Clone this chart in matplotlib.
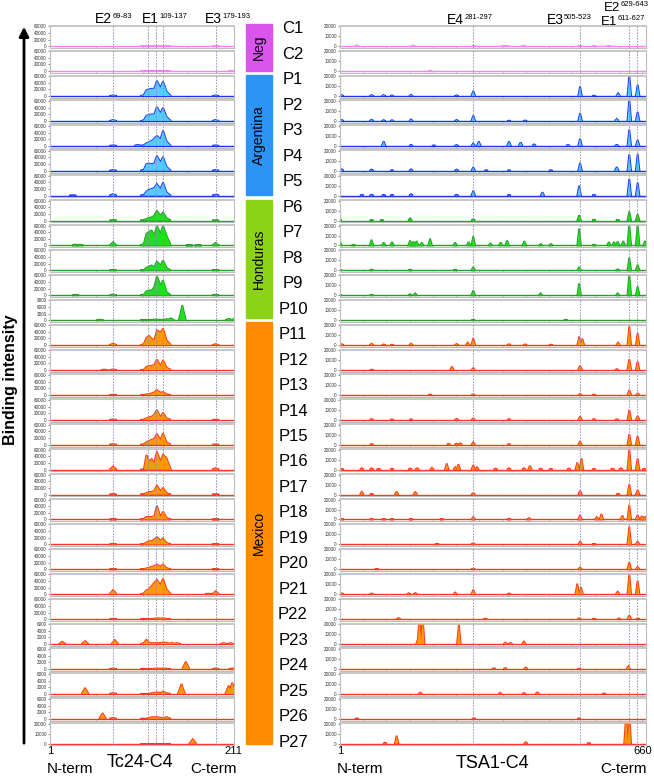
import numpy as np
import matplotlib.pyplot as plt
from matplotlib.patches import Rectangle

plt.rcParams['font.family'] = ['Liberation Sans', 'DejaVu Sans']

W, H = 654, 779

# panels, top to bottom
panel_names = ['C1', 'C2'] + ['P%d' % i for i in range(1, 28)]
group_names = ['Neg', 'Argentina', 'Honduras', 'Mexico']
group_rows = [(0, 1), (2, 6), (7, 11), (12, 28)]
group_bar_px = [(24, 71), (75, 195), (200, 318), (322, 744)]
group_bar_colors = ['#d955ec', '#2b94f5', '#8cd317', '#ff8c00']
line_colors = ['#ff80ff', '#1a35e8', '#2a9d2a', '#ff3322']
fill_colors = ['#ffb0ff', '#55ccff', '#1ee01e', '#ff9900']

# ---- Tc24-C4 (1..211), values in thousands ----
tc24_len = 211
tc24_epitopes = [73, 113, 122, 130, 190]
tc24_ymax = [60, 60, 60, 60, 60, 60, 60, 60, 60, 60, 60, 9,
             60, 60, 60, 60, 60, 60, 60, 60, 60, 60, 60, 60,
             6, 6, 6, 6, 20]
tc24_cluster_pos = [104, 108, 111, 114, 117, 120, 123, 127, 130, 134, 139]
tc24_cluster = [
    [0, 0, 0, 0, 0.4, 0.8, 0.8, 0.6, 0.8, 0.4, 0],     # C1
    [0, 0, 0, 0, 0, 0, 0, 0, 0, 0, 0],                 # C2
    [0, 3, 18, 20, 22, 22, 46, 25, 44, 14, 0],         # P1
    [0, 2, 16, 18, 20, 20, 42, 23, 40, 12, 0],         # P2
    [0, 2, 8, 12, 15, 22, 30, 20, 46, 14, 0],          # P3
    [0, 3, 20, 22, 20, 22, 45, 25, 42, 12, 0],         # P4
    [0, 2, 12, 18, 20, 24, 35, 20, 40, 10, 0],         # P5
    [0, 1, 5, 8, 10, 15, 30, 15, 25, 8, 0],            # P6
    [0, 5, 35, 42, 45, 30, 60, 35, 60, 30, 0],         # P7
    [0, 1, 8, 12, 15, 10, 27, 15, 30, 8, 0],           # P8
    [0, 2, 12, 15, 15, 25, 58, 30, 45, 10, 0],         # P9
    [0, 0, 0, 0.1, 0.2, 0.3, 0.3, 0.2, 0.2, 0.5, 0],   # P10
    [0, 3, 22, 28, 20, 15, 45, 38, 50, 15, 0],         # P11
    [0, 1, 10, 13, 13, 15, 32, 12, 30, 8, 0],          # P12
    [0, 0, 2, 3, 5, 8, 15, 7, 9, 2, 0],                # P13
    [0, 1, 5, 8, 10, 15, 30, 8, 22, 5, 0],             # P14
    [0, 1, 8, 12, 15, 18, 33, 15, 35, 8, 0],           # P15
    [0, 0, 45, 25, 32, 20, 55, 25, 45, 35, 0],         # P16
    [0, 1, 5, 8, 8, 12, 28, 10, 20, 5, 0],             # P17
    [0, 2, 8, 8, 8, 10, 42, 8, 24, 5, 0],              # P18
    [0, 1, 6, 10, 10, 15, 22, 12, 18, 5, 0],           # P19
    [0, 1, 3, 5, 8, 10, 15, 8, 15, 4, 0],              # P20
    [0, 3, 12, 15, 25, 35, 43, 28, 47, 15, 0],         # P21
    [0, 0, 0, 0.5, 1, 1.5, 3, 2, 3, 1, 0],             # P22
    [0, 0.3, 1.3, 0.4, 0.3, 0.3, 0.4, 0.3, 0.5, 0.4, 0],  # P23
    [0, 0, 0, 0, 0, 0.1, 0.2, 0.1, 0.2, 0.1, 0],       # P24
    [0, 0, 0, 0, 0.2, 0.3, 0.5, 0.3, 0.7, 0.2, 0],     # P25
    [0, 0, 0, 0.3, 0.5, 0.5, 0.5, 0.3, 0.3, 0.5, 0],   # P26
    [0, 0, 0, 0, 0, 0, 0, 0, 0, 0, 0],                 # P27
]
# isolated peaks (position, height in thousands)
tc24_peaks = [
    [(190, 0.3)],                                               # C1
    [(208, 1.0)],                                               # C2
    [(73, 2), (190, 2)],                                        # P1
    [(73, 3), (190, 3)],                                        # P2
    [(73, 1.5), (101, 3), (190, 1.5)],                          # P3
    [(73, 2), (190, 2)],                                        # P4
    [(27, 1), (73, 5), (190, 3)],                               # P5
    [(73, 1), (190, 0.5)],                                      # P6
    [(30, 3), (35, 2.5), (73, 10), (160, 0.8), (170, 1), (190, 8)],  # P7
    [(73, 2), (190, 1.5)],                                      # P8
    [(30, 1), (73, 3), (190, 2)],                               # P9
    [(58, 0.3), (139, 0.9), (152, 6.8), (205, 0.7), (210, 0.5)],  # P10
    [(73, 5), (190, 3)],                                        # P11
    [(63, 1.5), (73, 2)],                                       # P12
    [(73, 0.5)],                                                # P13
    [(73, 1), (190, 0.5)],                                      # P14
    [(73, 2), (190, 1)],                                        # P15
    [(73, 10), (190, 5)],                                       # P16
    [(73, 1), (190, 0.5)],                                      # P17
    [(73, 1), (190, 0.5)],                                      # P18
    [(73, 2), (190, 1)],                                        # P19
    [(73, 0.5), (190, 0.5)],                                    # P20
    [(73, 13), (182, 2), (190, 9)],                             # P21
    [(73, 0.5)],                                                # P22
    [(15, 0.7), (41, 0.9), (75, 1.2), (140, 0.4), (146, 0.3), (199, 0.3), (207, 0.3)],  # P23
    [(73, 0.2), (156, 2.2), (190, 0.2), (209, 0.2)],            # P24
    [(41, 1.8), (73, 0.3), (151, 3.0), (205, 2.5), (209, 3.4)],  # P25
    [(61, 1.7), (73, 0.3)],                                     # P26
    [(164, 4.5)],                                               # P27
]

# ---- TSA1-C4 (1..660), values in thousands, axis max 20 ----
tsa1_len = 660
tsa1_epitopes = [287, 518, 624, 641]
tsa1_ymax = 20
tsa1_peaks = [
    [(37, 1.0), (159, 0.8), (289, 0.4), (353, 0.5), (360, 0.5), (396, 0.7), (518, 0.4), (548, 0.4), (580, 0.5)],  # C1
    [(195, 0.3)],  # C2
    [(5, 1.0), (69, 1.0), (95, 1.0), (113, 0.6), (154, 1.2), (252, 0.7), (288, 5.2), (518, 9.5), (548, 0.5),
     (600, 2.7), (624, 21), (642, 11.4)],  # P1
    [(5, 1.0), (69, 1.2), (95, 0.8), (113, 0.8), (154, 1.5), (252, 1.0), (288, 5.5), (365, 0.3), (400, 0.5),
     (518, 8.0), (597, 2.0), (624, 22), (642, 9.0)],  # P2
    [(95, 4.5), (154, 1.0), (203, 0.5), (252, 0.8), (288, 2.5), (300, 4.5), (365, 4.5), (390, 3.5), (419, 1.5),
     (492, 1.0), (518, 7.2), (597, 1.0), (624, 16.5), (642, 6.0)],  # P3
    [(5, 1.5), (69, 1.2), (113, 0.5), (154, 1.5), (252, 1.2), (288, 3.5), (316, 0.5), (365, 0.4), (455, 0.5),
     (518, 8.0), (597, 3.8), (624, 16.5), (642, 17.0)],  # P4
    [(48, 0.8), (69, 1.0), (95, 0.6), (113, 0.6), (154, 1.5), (252, 0.8), (288, 5.0), (365, 0.6), (437, 3.4),
     (516, 10.0), (548, 0.8), (624, 17.0), (642, 13.0)],  # P5
    [(1, 0.8), (69, 0.5), (91, 0.3), (152, 2.4), (288, 1.5), (516, 5.5), (548, 1.0), (599, 0.7), (624, 9.3),
     (642, 6.5)],  # P6
    [(1, 3.5), (30, 0.8), (69, 5.8), (95, 3.0), (113, 3.5), (152, 5.0), (159, 4.0), (166, 4.5), (177, 3.0),
     (195, 6.9), (249, 3.0), (278, 3.5), (288, 9.3), (325, 2.0), (347, 3.0), (361, 5.0), (398, 4.5), (433, 1.5),
     (455, 1.5), (516, 17.0), (548, 1.0), (580, 3.5), (591, 3.5), (599, 4.0), (611, 4.5), (624, 22), (642, 22),
     (658, 4.5)],  # P7
    [(1, 0.8), (69, 1.0), (152, 1.0), (249, 0.8), (288, 3.4), (516, 3.5), (599, 1.2), (624, 13.0), (642, 5.8)],  # P8
    [(1, 0.8), (69, 0.6), (152, 1.2), (163, 2.0), (288, 5.0), (433, 2.0), (516, 12.0), (599, 2.0), (624, 21),
     (642, 9.0)],  # P9
    [(288, 0.3), (487, 0.3)],  # P10
    [(5, 1.0), (69, 1.5), (95, 0.8), (113, 0.5), (154, 1.5), (252, 1.2), (276, 2.5), (288, 7.0), (365, 1.0),
     (400, 0.8), (455, 0.5), (516, 8.6), (523, 6.5), (600, 2.5), (624, 19.0), (642, 12.0)],  # P11
    [(69, 0.4), (242, 3.5), (288, 2.0), (518, 4.5), (597, 1.0), (624, 11.0), (642, 8.5)],  # P12
    [(195, 0.5), (288, 0.6), (518, 1.2), (548, 0.5), (624, 5.0), (642, 1.5)],  # P13
    [(69, 0.8), (113, 0.4), (154, 0.6), (252, 1.0), (288, 1.5), (365, 0.8), (518, 3.5), (548, 0.8), (597, 0.6),
     (624, 10.0), (642, 4.0)],  # P14
    [(69, 0.6), (235, 1.0), (252, 1.2), (260, 1.5), (288, 2.5), (365, 0.6), (518, 3.5), (624, 10.7), (642, 8.6)],  # P15
    [(5, 0.8), (48, 1.5), (69, 1.5), (84, 0.8), (113, 1.0), (152, 1.3), (167, 1.5), (199, 2.0), (231, 6.2),
     (249, 2.5), (256, 5.5), (288, 4.5), (296, 2.5), (336, 1.2), (365, 1.5), (397, 1.5), (410, 4.0), (433, 1.0),
     (455, 0.8), (494, 1.2), (512, 7.2), (521, 11.4), (548, 0.8), (588, 1.0), (606, 1.5), (624, 21), (642, 11.4),
     (656, 1.0)],  # P16
    [(48, 2.8), (69, 0.5), (123, 3.0), (163, 3.0), (288, 1.5), (518, 3.8), (600, 0.8), (624, 10.3), (642, 4.5)],  # P17
    [(5, 0.6), (69, 0.8), (95, 0.5), (113, 0.5), (154, 0.5), (220, 0.5), (288, 2.5), (365, 0.6), (408, 1.5),
     (518, 4.5), (554, 2.5), (564, 5.5), (609, 4.0), (624, 14.8), (642, 4.5), (651, 3.5), (657, 3.0)],  # P18
    [(210, 0.5), (288, 1.2), (518, 3.0), (548, 0.5), (624, 18.0), (642, 3.0)],  # P19
    [(80, 0.4), (288, 0.8), (518, 2.0), (624, 7.0), (642, 2.5)],  # P20
    [(5, 1.0), (69, 0.8), (149, 1.0), (163, 1.2), (249, 1.8), (288, 4.5), (365, 0.8), (512, 10.7), (520, 7.0),
     (599, 2.5), (624, 21), (642, 13.8)],  # P21
    [(127, 1.2), (314, 0.6), (516, 0.8), (548, 0.6), (602, 0.8), (624, 3.8), (642, 0.8)],  # P22
    [(169, 5.0), (172, 28), (179, 28), (257, 20.0), (357, 1.5), (368, 1.2), (397, 2.5)],  # P23
    [(332, 0.8), (357, 1.0), (401, 1.5), (516, 0.3), (622, 2.8)],  # P24
    [(174, 1.2), (346, 1.0), (397, 0.8), (426, 1.5), (570, 0.4)],  # P25
    [(37, 0.2), (289, 0.4), (516, 0.3)],  # P26
    [(98, 1.0), (123, 8.0), (401, 1.5), (537, 0.5), (617, 28), (624, 28)],  # P27
]

tick_step = {60: 20, 9: 3, 6: 2, 20: 10}

# layout in pixels
ROW_TOP0, ROW_STEP, ROW_H = 25.7, 24.91, 22.3
L_X0, L_W = 50, 184
R_X0, R_W = 340, 306

fig = plt.figure(figsize=(W / 100, H / 100), dpi=100)


def px_axes(x0, y0, w, h):
    return fig.add_axes([x0 / W, 1 - (y0 + h) / H, w / W, h / H])


def draw_panel(ax, xmax, ymax, cluster, peaks, halfw, lc, fc, epis, xticks):
    ax.set_xlim(1, xmax)
    ax.set_ylim(-0.09 * ymax * 1000, 1.03 * ymax * 1000)
    ax.axhline(0, color=lc, lw=1.0, zorder=2.5)
    if cluster is not None:
        cx, cy = cluster
        cy = np.array(cy) * 1000
        ax.fill(cx, cy, facecolor=fc, edgecolor='none', zorder=3)
        ax.fill(cx, cy, facecolor='none', edgecolor=lc, lw=1.3, zorder=2)
    for p, h in peaks:
        xs = [p - halfw, p, p + halfw]
        ys = [0, h * 1000, 0]
        ax.fill(xs, ys, facecolor=fc, edgecolor='none', zorder=3)
        ax.fill(xs, ys, facecolor='none', edgecolor=lc, lw=1.3, zorder=2)
    for e in epis:
        ax.axvline(e, color='#8c8cb0', lw=0.6, ls=(0, (2, 1.5)), zorder=4)
    step = tick_step[ymax]
    ax.set_yticks(np.arange(0, ymax + step, step) * 1000)
    ax.set_yticklabels(['%d' % v for v in np.arange(0, ymax + step, step) * 1000])
    ax.set_xticks(xticks)
    ax.set_xticklabels([])
    ax.tick_params(axis='y', labelsize=3.3, length=1.5, width=0.4, pad=0.8, colors='#333333')
    ax.tick_params(axis='x', direction='in', length=1.5, width=0.4, colors='#999999')
    for s in ax.spines.values():
        s.set_color('#bdbdbd')
        s.set_linewidth(0.8)
    ax.spines['top'].set_linewidth(1.2)


row_group = []
for g, (a, b) in enumerate(group_rows):
    row_group += [g] * (b - a + 1)

for i, name in enumerate(panel_names):
    top = ROW_TOP0 + i * ROW_STEP
    g = row_group[i]
    axl = px_axes(L_X0, top, L_W, ROW_H)
    draw_panel(axl, tc24_len, tc24_ymax[i], (tc24_cluster_pos, tc24_cluster[i]),
               tc24_peaks[i], 4, line_colors[g], fill_colors[g], tc24_epitopes,
               [1, 54, 107, 159, 211])
    axr = px_axes(R_X0, top, R_W, ROW_H)
    draw_panel(axr, tsa1_len, tsa1_ymax, None, tsa1_peaks[i], 4,
               line_colors[g], fill_colors[g], tsa1_epitopes, np.arange(1, 661, 50))

# overlay for annotations, pixel coordinates
ov = fig.add_axes([0, 0, 1, 1])
ov.set_xlim(0, W)
ov.set_ylim(H, 0)
ov.axis('off')

for name, (t, b), c in zip(group_names, group_bar_px, group_bar_colors):
    ov.add_patch(Rectangle((246, t), 26, b - t, color=c))
    ov.text(259, (t + b) / 2, name, rotation=90, ha='center', va='center', fontsize=10)

for i, name in enumerate(panel_names):
    ov.text(293, 33.3 + i * 25.48, name, ha='center', va='baseline', fontsize=12)

ov.annotate('', xy=(24, 24), xytext=(24, 746),
            arrowprops=dict(arrowstyle='-|>', lw=2, color='black', mutation_scale=14))
ov.text(11, 380, 'Binding intensity', rotation=90, ha='center', va='center',
        fontsize=11.5, fontweight='bold')


def epitope_label(x, y, main, sup, size=10):
    ov.text(x, y, main, ha='right', va='baseline', fontsize=size)
    ov.text(x + 0.5, y - 5, sup, ha='left', va='baseline', fontsize=5.5)


epitope_label(112.5, 22.5, 'E2', '69-83')
epitope_label(158.5, 22.5, 'E1', '109-137')
epitope_label(222, 22.5, 'E3', '179-193')
epitope_label(464, 23.5, 'E4', '281-297')
epitope_label(563.5, 23.5, 'E3', '505-523')
epitope_label(617, 25, 'E1', '611-627', size=9.5)
epitope_label(620, 10.5, 'E2', '629-643', size=9.5)

# bottom axis annotations
ov.text(50, 754, '1', ha='center', va='baseline', fontsize=8)
ov.text(233, 754, '211', ha='center', va='baseline', fontsize=8)
ov.text(47, 773, 'N-term', ha='left', va='baseline', fontsize=11)
ov.text(140, 767, 'Tc24-C4', ha='center', va='baseline', fontsize=13)
ov.text(237, 773, 'C-term', ha='right', va='baseline', fontsize=11)
ov.text(340, 754, '1', ha='center', va='baseline', fontsize=8)
ov.text(643, 754, '660', ha='center', va='baseline', fontsize=8)
ov.text(337, 773, 'N-term', ha='left', va='baseline', fontsize=11)
ov.text(492, 768, 'TSA1-C4', ha='center', va='baseline', fontsize=13)
ov.text(647, 773, 'C-term', ha='right', va='baseline', fontsize=11)

plt.savefig('out.png', dpi=100)
